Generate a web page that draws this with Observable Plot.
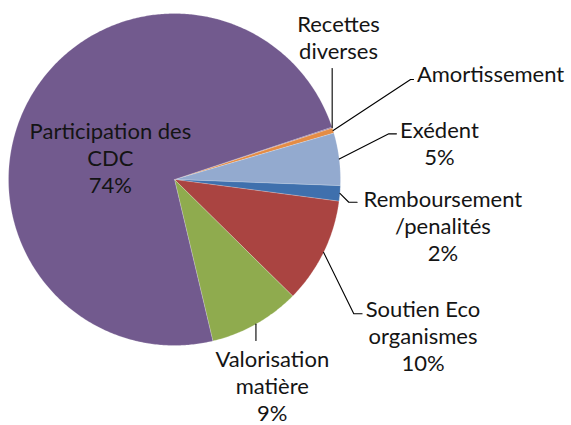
<!DOCTYPE html>
<html>
<head>
<meta charset="utf-8">
<script src="https://cdn.jsdelivr.net/npm/d3@7"></script>
<script src="https://cdn.jsdelivr.net/npm/@observablehq/plot@0.6"></script>
<style>
  html, body { margin: 0; padding: 0; background: #fff; }
  #chart { width: 571px; height: 425px; overflow: hidden; }
</style>
</head>
<body>
<div id="chart"></div>
<script>
// ---- data ----
const categories = ["Recettes diverses", "Amortissement", "Exédent", "Remboursement /penalités", "Soutien Eco organismes", "Valorisation matière", "Participation des CDC"];
const values = [0.1, 0.5, 5.1, 1.5, 10.3, 8.9, 73.6];
const labelTexts = [
  "Recettes\ndiverses",
  "Amortissement",
  "Exédent\n5%",
  "Remboursement\n/penalités\n2%",
  "Soutien Eco\norganismes\n10%",
  "Valorisation\nmatière\n9%",
  "Participation des\nCDC\n74%"
];
const colors = ["#7a5c94", "#e48c45", "#93aacf", "#3f70ad", "#aa4441", "#8fab4e", "#725a8e"];

// ---- layout (data units, pie radius = 1) ----
const startAngleDeg = 71.6;
const labelPos = [
  [0.988, 0.861], [1.904, 0.639], [1.596, 0.223], [1.617, -0.277],
  [1.497, -0.940], [0.589, -1.240], [-0.386, 0.133]
];
// elbow [x or null (= vertical), y, end x or null]
const leaders = [
  [null, 0.669, null], [1.422, 0.602, 1.44], [1.291, 0.275, 1.337],
  [1.05, -0.137, 1.10], [1.080, -0.809, 1.130], [null, -0.970, null], null
];

const rows = categories.map((c, i) => ({name: c, value: values[i]}));
const arcs = d3.pie().sort(null).value(d => d.value)
  .startAngle(startAngleDeg * Math.PI / 180)
  .endAngle(startAngleDeg * Math.PI / 180 + 2 * Math.PI)(rows);

const slicePts = [];
arcs.forEach(a => {
  const n = Math.max(2, Math.ceil((a.endAngle - a.startAngle) / 0.01));
  slicePts.push({name: a.data.name, x: 0, y: 0});
  for (let k = 0; k <= n; k++) {
    const t = a.startAngle + (a.endAngle - a.startAngle) * k / n;
    slicePts.push({name: a.data.name, x: Math.sin(t), y: Math.cos(t)});
  }
  slicePts.push({name: a.data.name, x: 0, y: 0});
});

const leaderPts = [];
arcs.forEach((a, i) => {
  const L = leaders[i];
  if (!L) return;
  const m = (a.startAngle + a.endAngle) / 2;
  const x0 = Math.sin(m), y0 = Math.cos(m);
  const ex = L[0] == null ? x0 : L[0];
  const endx = L[2] == null ? ex : L[2];
  leaderPts.push({name: a.data.name, x: x0, y: y0});
  leaderPts.push({name: a.data.name, x: ex, y: L[1]});
  leaderPts.push({name: a.data.name, x: endx, y: L[1]});
});

const labels = categories.map((c, i) => ({name: c, text: labelTexts[i], x: labelPos[i][0], y: labelPos[i][1]}));

const chart = Plot.plot({
  width: 571,
  height: 425,
  marginLeft: 8,
  marginRight: 231,
  marginTop: 13,
  marginBottom: 80,
  x: {domain: [-1, 1], axis: null},
  y: {domain: [-1, 1], axis: null},
  color: {domain: categories, range: colors},
  style: {fontFamily: "Lato, 'Open Sans', sans-serif", background: "white", overflow: "visible"},
  marks: [
    Plot.line(slicePts, {x: "x", y: "y", z: "name", fill: "name", stroke: "white", strokeOpacity: 0.4, strokeWidth: 0.5, curve: "linear-closed"}),
    Plot.line(leaderPts, {x: "x", y: "y", z: "name", stroke: "#000", strokeWidth: 1.1}),
    Plot.text(labels, {x: "x", y: "y", text: "text", fill: "#141414", fontSize: 22, lineHeight: 1.23})
  ]
});
document.getElementById("chart").appendChild(chart);
</script>
</body>
</html>
